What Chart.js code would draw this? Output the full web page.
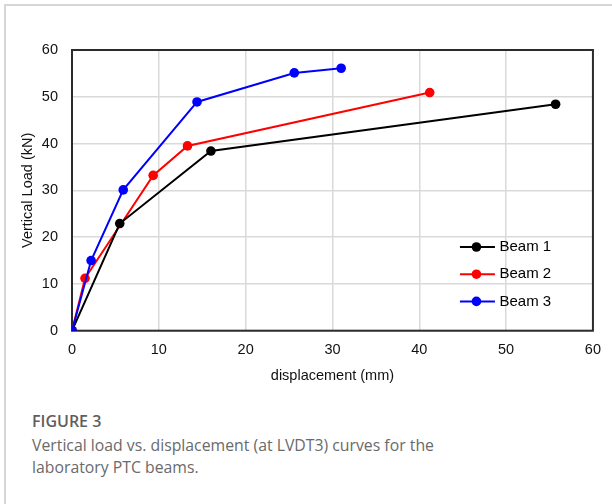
<!DOCTYPE html>
<html>
<head>
<meta charset="utf-8">
<script src="https://cdn.jsdelivr.net/npm/chart.js@4"></script>
<style>
    html, body { margin: 0; padding: 0; background: #fff; }
    #page { position: relative; width: 612px; height: 504px; overflow: hidden; }
    #card { position: absolute; left: 4px; top: 4px; right: -2px; bottom: -2px;
            border-top: 2px solid #d6d6d6; border-left: 2px solid #d6d6d6; }
    #chartBox { position: absolute; left: 0; top: 0; width: 612px; height: 400px; }
    #caption { position: absolute; left: 32px; top: 410px; font-family: "Open Sans", sans-serif; color: #6a6a6a; }
    #caption .fig { font-weight: 600; font-size: 16px; color: #5e5e5e; line-height: 22px; }
    #caption .txt { font-size: 15.8px; line-height: 22px; margin-top: 2px; }
</style>
</head>
<body>
<div id="page">
    <div id="card"></div>
    <div id="chartBox"><canvas id="loadChart"></canvas></div>
    <div id="caption">
        <div class="fig">FIGURE 3</div>
        <div class="txt">Vertical load vs. displacement (at LVDT3) curves for the<br>laboratory PTC beams.</div>
    </div>
</div>
<script>
// ===============================
// DATA
// ===============================
const seriesNames = ["Beam 1", "Beam 2", "Beam 3"];
const seriesColors = ["#000000", "#ff0000", "#0000ff"];

const beam1X = [0, 5.5, 16.0, 55.7];
const beam1Y = [0, 22.9, 38.4, 48.4];

const beam2X = [0, 1.5, 9.35, 13.3, 41.2];
const beam2Y = [0, 11.2, 33.2, 39.5, 50.9];

const beam3X = [0, 2.2, 5.9, 14.4, 25.6, 31.0];
const beam3Y = [0, 15.0, 30.1, 48.9, 55.1, 56.1];

const xTicks = [0, 10, 20, 30, 40, 50, 60];
const yTicks = [0, 10, 20, 30, 40, 50, 60];

// draw order: red first, then black, blue on top
const drawOrder = [1, 2, 0];

function toPoints(xs, ys) {
    return xs.map((x, i) => ({ x: x, y: ys[i] }));
}

const allX = [beam1X, beam2X, beam3X];
const allY = [beam1Y, beam2Y, beam3Y];

const datasets = seriesNames.map((name, i) => ({
    label: name,
    data: toPoints(allX[i], allY[i]),
    borderColor: seriesColors[i],
    backgroundColor: seriesColors[i],
    borderWidth: 2,
    pointRadius: 4.8,
    pointHoverRadius: 4.8,
    pointBorderWidth: 0,
    tension: 0,
    order: drawOrder[i]
}));

// ===============================
// PLUGINS
// ===============================
const frameBox = {
    id: "frameBox",
    beforeDatasetsDraw(chart) {
        const a = chart.chartArea;
        const ctx = chart.ctx;
        ctx.save();
        ctx.strokeStyle = "#2b2b2b";
        ctx.lineWidth = 2;
        ctx.strokeRect(a.left, a.top, a.right - a.left, a.bottom - a.top);
        ctx.restore();
    }
};

const lineLegend = {
    id: "lineLegend",
    afterDraw(chart) {
        const a = chart.chartArea;
        const ctx = chart.ctx;
        const x0 = a.right - 133;
        const y0 = a.top + 197;
        ctx.save();
        ctx.font = "15px 'Liberation Sans', Arial, sans-serif";
        ctx.textBaseline = "middle";
        chart.data.datasets.forEach((ds, i) => {
            const y = y0 + i * 27.2;
            ctx.strokeStyle = ds.borderColor;
            ctx.lineWidth = 2;
            ctx.beginPath();
            ctx.moveTo(x0, y);
            ctx.lineTo(x0 + 35, y);
            ctx.stroke();
            ctx.fillStyle = ds.backgroundColor;
            ctx.beginPath();
            ctx.arc(x0 + 16.5, y, 4.8, 0, Math.PI * 2);
            ctx.fill();
            ctx.fillStyle = "#000";
            ctx.fillText(ds.label, x0 + 39.5, y);
        });
        ctx.restore();
    }
};

// ===============================
// CHART
// ===============================
const tickFont = { family: "'Liberation Sans', Arial, sans-serif", size: 14.5 };

new Chart(document.getElementById("loadChart"), {
    type: "line",
    data: { datasets: datasets },
    options: {
        responsive: true,
        maintainAspectRatio: false,
        animation: false,
        layout: { padding: { left: 15.6, top: 50, right: 17.7, bottom: 11.6 } },
        plugins: {
            legend: { display: false },
            tooltip: { enabled: false }
        },
        scales: {
            x: {
                type: "linear",
                min: 0,
                max: 60,
                afterBuildTicks: s => { s.ticks = xTicks.map(v => ({ value: v })); },
                afterFit: s => { s.height = 57.7; },
                grid: { color: "#d9d9d9", lineWidth: 1.5, drawTicks: false },
                border: { display: false },
                ticks: { color: "#111", font: tickFont, padding: 11, maxRotation: 0 },
                title: { display: true, text: "displacement (mm)", color: "#111", font: tickFont }
            },
            y: {
                type: "linear",
                min: 0,
                max: 60,
                afterBuildTicks: s => { s.ticks = yTicks.map(v => ({ value: v })); },
                afterFit: s => { s.width = 56.4; },
                grid: { color: "#d9d9d9", lineWidth: 1.5, drawTicks: false },
                border: { display: false },
                ticks: { color: "#111", font: tickFont, padding: 14 },
                title: { display: true, text: "Vertical Load (kN)", color: "#111", font: tickFont }
            }
        }
    },
    plugins: [frameBox, lineLegend]
});
</script>
</body>
</html>
